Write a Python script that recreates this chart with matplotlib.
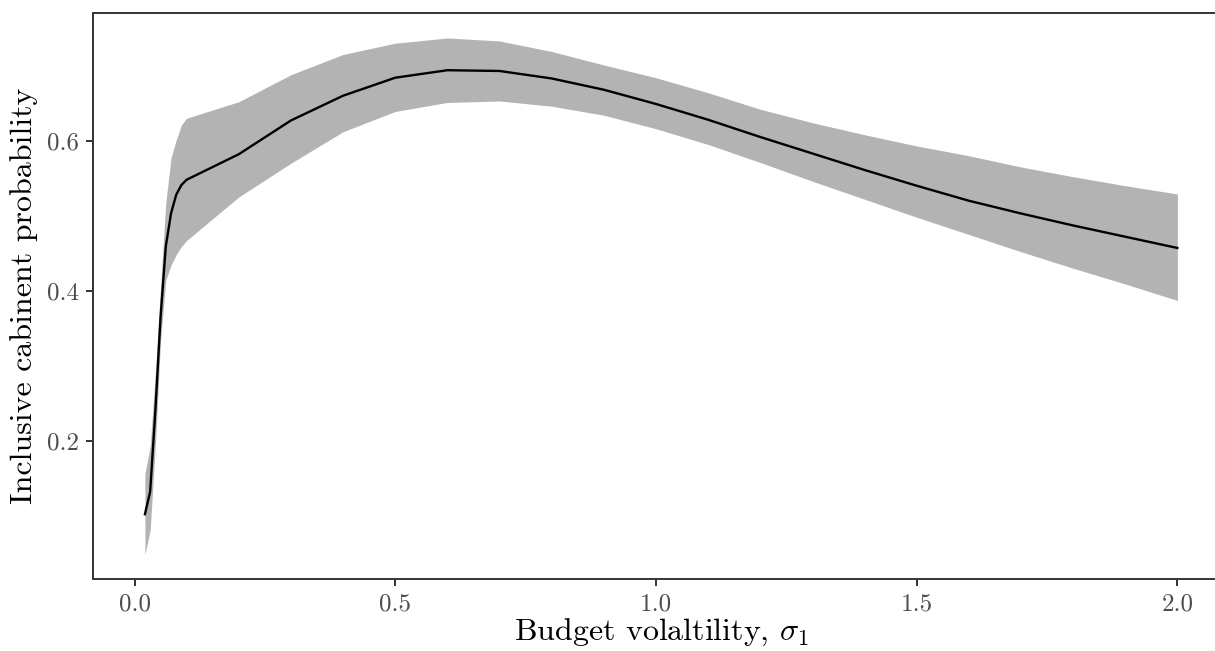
import numpy as np
import matplotlib.pyplot as plt

plt.rcParams['font.family'] = 'cmr10'
plt.rcParams['mathtext.fontset'] = 'cm'
plt.rcParams['axes.formatter.use_mathtext'] = True

# Сетка по волатильности и оценки с доверительной полосой
sigma = [0.02, 0.03, 0.04, 0.05, 0.06, 0.07, 0.08, 0.09, 0.10,
         0.2, 0.3, 0.4, 0.5, 0.6, 0.7, 0.8, 0.9, 1.0,
         1.1, 1.2, 1.3, 1.4, 1.5, 1.6, 1.7, 1.8, 1.9, 2.0]
prob = [0.102, 0.132, 0.24, 0.365, 0.459, 0.503, 0.528, 0.541, 0.548,
        0.582, 0.627, 0.660, 0.684, 0.694, 0.693, 0.683, 0.668, 0.649,
        0.628, 0.605, 0.583, 0.561, 0.540, 0.520, 0.503, 0.487, 0.472, 0.457]
lower = [0.048, 0.080, 0.195, 0.334, 0.414, 0.434, 0.448, 0.459, 0.467,
         0.525, 0.570, 0.612, 0.639, 0.651, 0.653, 0.646, 0.634, 0.616,
         0.595, 0.571, 0.546, 0.522, 0.498, 0.475, 0.452, 0.430, 0.409, 0.387]
upper = [0.156, 0.192, 0.290, 0.405, 0.517, 0.577, 0.601, 0.621, 0.630,
         0.652, 0.688, 0.715, 0.730, 0.737, 0.733, 0.719, 0.701, 0.684,
         0.664, 0.642, 0.624, 0.608, 0.593, 0.580, 0.565, 0.552, 0.540, 0.529]

xticks = [0.0, 0.5, 1.0, 1.5, 2.0]
yticks = [0.2, 0.4, 0.6]

fig = plt.figure(figsize=(12.15, 6.51), dpi=100)
ax = fig.add_axes([0.0768, 0.1106, 0.9347, 0.8699])

ax.fill_between(sigma, lower, upper, color='#b3b3b3', linewidth=0)
ax.plot(sigma, prob, color='black', linewidth=1.7)

ax.set_xlim(-0.079, 2.099)
ax.set_ylim(0.0156, 0.7707)
ax.set_xticks(xticks, [f'{t:.1f}' for t in xticks])
ax.set_yticks(yticks, [f'{t:.1f}' for t in yticks])
ax.tick_params(colors='#333333', labelcolor='#4d4d4d', labelsize=18,
               length=5, width=1.4, pad=5)

for s in ax.spines.values():
    s.set_color('#333333')
    s.set_linewidth(1.4)

ax.set_xlabel(r'Budget volaltility, $\sigma_1$', fontsize=23, labelpad=1)
ax.set_ylabel('Inclusive cabinent probability', fontsize=23, labelpad=7)

fig.savefig('out.png', dpi=100)
